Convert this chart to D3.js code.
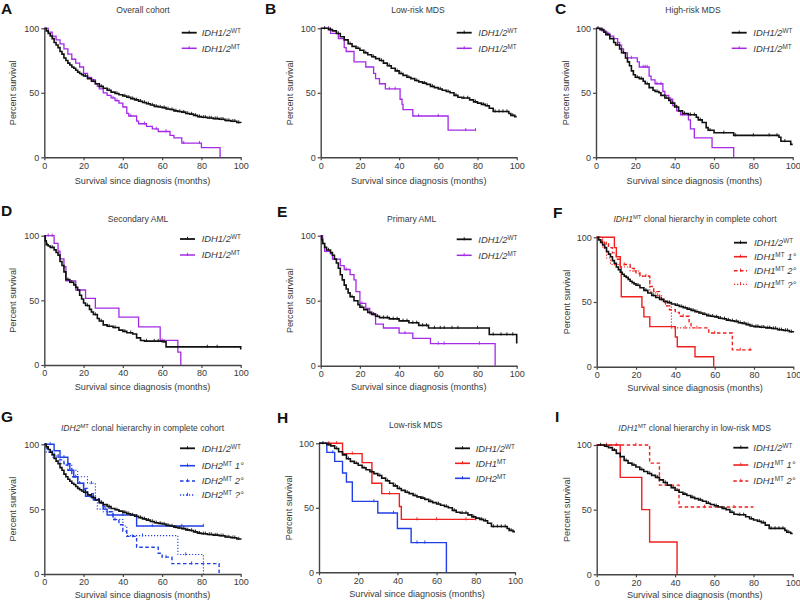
<!DOCTYPE html>
<html><head><meta charset="utf-8">
<script src="https://cdn.jsdelivr.net/npm/d3@7"></script>
<style>body{margin:0;background:#fff}svg{display:block}</style>
</head><body>
<svg id="c" width="800" height="602"></svg>
<script>
// ---------- DATA (Kaplan–Meier steps: [month, percent survival after that time]) ----------
const xTicks = [0, 20, 40, 60, 80, 100];
const yTicks = [0, 50, 100];

const wtAll = [[0,100],[1,98],[2,96],[3,94],[4,92],[5,89],[6,87],[7,85],[8,82],[9,80],[10,77],[11,75],[12,73],[13,71.5],[14,70],[15,69],[16,67.5],[17,66],[18,65],[19,64],[20,63],[22,61],[24,59],[26,57],[28,55],[30,53.5],[32,52],[34,50.5],[36,49.5],[38,48.5],[40,47.5],[42,46.5],[44,45.5],[46,44.5],[48,43.5],[50,42.5],[52,41.5],[54,40.5],[56,39.5],[58,39],[60,38.5],[62,37.5],[64,37],[66,36],[68,35.5],[70,35],[72,34],[74,33.5],[76,32.5],[78,31.5],[80,31],[83,30.5],[86,30],[89,29.5],[92,28.5],[95,28],[98,27],[100,26.5]];
const wtAllCens = [21,25,29,33,37,41,43,45,47,49,51,53,55,57,59,61,63,65,67,69,71,73,75,77,79,81,82,84,85,87,88,90,91,93,94,96,97,99];
const mtAll = [[0,100],[2,97],[4,94],[6,91],[8,88],[10,84],[12,80],[14,76],[16,73],[18,70],[20,65],[22,62],[24,60],[26,57],[27,55],[28,53],[30,50],[32,48],[34,46],[36,44],[38,42],[40,39],[42,34],[43,32],[47,28],[48,26],[52,24],[55,22],[58,20],[64,17],[66,15],[70,11],[80,7.5],[89.5,0]];
const mtAllCens = [35,37,44,51,57,62,71,79];

const wtLR = [[0,100],[4,99],[6,98],[8,96],[10,93.5],[12,91],[14,88],[16,86],[18,84.5],[20,83],[22,81],[24,79.5],[26,78],[28,76.5],[30,75],[32,73],[34,71],[36,69],[38,67],[40,65],[42,63.5],[44,62],[46,61],[48,59.5],[50,58.5],[52,57.5],[54,56.5],[56,55],[58,54],[60,53],[62,52],[64,51],[66,50],[68,48],[70,46.5],[72,46],[76,44.5],[78,43],[80,42],[82,41],[84,40],[86,38],[88,35.5],[96,34],[97,32.5],[99,31.5],[100,31.5]];
const wtLRCens = [2,5,9,15,19,23,27,31,35,39,41,45,49,53,57,61,65,69,73,75,79,83,85,89,91,93,95,98];
const mtLR = [[0,100],[5,96],[9,92],[12,85],[13,82],[17,74],[23,70],[27,65],[28,61],[30,57],[33,53],[40.5,45],[41.5,41],[42,37],[47,32],[65,21],[79,21]];
const mtLRCens = [4,35,38,50,60,74,79];

const wtHR = [[0,100],[2,99],[4,97],[5,95],[7,92],[9,89],[10,87],[12,84],[13,81],[15,77],[16,74],[17,71],[18,67],[19,64],[20,62],[22,61],[24,59],[25,57],[27,54],[29,52],[30,51],[32,50],[33,48],[35,46],[37,44],[38,42],[40,39],[42,36],[44,34],[47,33],[51,31],[52,29],[54,27],[56,23],[57,21],[60,19],[70,17],[93,15.5],[94,12.5],[99,10],[100,10]];
const wtHRCens = [1,3,6,11,14,21,23,26,31,36,39,41,45,48,50,53,58,65,71,80,88,92,96];
const mtHR = [[0,100],[3,98],[5,96],[7,94],[9,92],[11,89],[12,87],[13,84],[14,81],[16,77],[21,74],[22,70],[27,63],[28,60],[30,57],[34,51],[35,48],[37,45],[39,40],[41,36],[43,33],[47,29],[48,22],[50,15],[59,7.5],[70,0]];
const mtHRCens = [6,18,24,25,26,31,33,38,44];

const wtSA = [[0,100],[0.5,96],[1,93],[2,92],[3,91],[5,89],[6,87],[7,85],[8,80],[9,77],[10,72],[11,66],[13,64],[15,62],[16,60],[17,58],[18,54],[19,51],[20,48],[21,46],[23,43],[24,41],[25,39],[27,36],[28,34],[30,31],[32,30],[35,29],[38,27],[40,26],[42,25],[45,24],[47,21],[49,19],[51,18.5],[60,18],[62,14],[100,12]];
const wtSACens = [1.5,4,12,14,22,26,29,33,36,41,44,52,56,58,61,83,88];
const mtSA = [[0,100],[5,94],[7,88],[8,82],[10,76],[11,65],[16,58],[21,51.5],[26,44],[38,37],[48,29.5],[59,19],[68,10],[69.5,0]];
const mtSACens = [2,4,60];

const wtPA = [[0,100],[0.5,97],[1,94],[2,91],[3,89],[5,87],[6,85],[7,82],[8,79],[9,75],[10,70],[11,66],[12,62],[13,59],[14,56],[15,53],[17,50],[19,47],[20,45],[22,43],[24,41],[26,39.5],[28,38],[30,37],[35,36],[40,34.5],[45,33],[50,31],[55,29],[86,24],[100,17]];
const wtPACens = [4,16,21,27,29,32,34,37,39,42,44,47,49,52,54,58,61,63,67,70,80,88,92,95,98];
const mtPA = [[0,100],[1,94],[2,88],[5,86],[6,82],[10,77],[12,74],[15,70],[17,66],[18,57],[20,48],[23,44],[25,40],[28,32],[32,29],[40,25],[47,21],[56,17],[89,0]];
const mtPACens = [3,13,21,26,43,60,63,81];

const idh1Prim = [[0,100],[9,92],[10,85],[12,77],[12.5,54],[23,46],[24,38.5],[27,31],[40,23],[41,15.4],[50,7.7],[59.5,0]];
const idh1Sec = [[0,100],[2,97],[4,95],[6,92],[8,88],[10,83],[12,79],[17,76],[20,72],[22,70],[27,62],[29,58],[32,52],[34,50],[35,47],[37,44],[40,42],[42,39],[47,34],[48,30],[57,26],[69,13],[80,13]];
const idh1SecCens = [3,5,14,25,33,44,51,60,73,78];
const idh1Unk = [[0,100],[3,92],[5,84],[7,79],[12,77],[17,74],[22,70],[27,58],[30,55],[33,52],[35,47],[38,30],[48,30]];
const idh1UnkCens = [4,9,19,31,45];

const idh2Prim = [[0,100],[5,95],[8,90],[12,85],[13,80],[15,75],[17,70],[20,65],[21,60],[25,57],[28,55],[30,50],[32,45.5],[47,37],[81,37]];
const idh2PrimCens = [3,10,14,18,23,29,31,35,40,55,70,81];
const idh2Sec = [[0,100],[1,97],[2,94],[5,92],[7,88],[10,84],[12,80],[14,75],[17,70],[20,66],[22,62],[25,58],[28,55],[30,52],[33,48],[35,42],[38,38],[40,33],[42,29],[47,20.6],[58,16],[60,13],[65,8],[89,0]];
const idh2SecCens = [4,16,36,45,62,75];
const idh2Unk = [[0,100],[1,94],[4,90],[8,85],[14,80],[17,75],[22,70],[26,58],[27,50],[30,48],[35,42],[40,37],[42,29.6],[68,15],[81,0]];
const idh2UnkCens = [6,12,24,50,72];

const lrIdh1 = [[0,100],[12,92],[22,85],[27,69],[32,61],[41,51],[42,41],[80,41]];
const lrIdh1Cens = [5,9,17,36,50,60,75,80];
const lrIdh2 = [[0,100],[4,93],[8,86],[12,77],[14,70],[17,55],[30,46],[40,34],[47,23],[65,0]];
const lrIdh2Cens = [7,28,38,50,54];

const lrIdh1Prim = [[0,100],[12,75],[23,50],[27,25],[41,0]];
const lrIdh1Sec = [[0,100],[27,86],[32,69],[42,52],[80,52]];
const lrIdh1SecCens = [5,10,20,35,55,70];

// ---------- STYLE ----------
const FONT = "Arial, 'Liberation Sans', Helvetica, sans-serif";
const BLACK = "#111", PURPLE = "#a42ae6", RED = "#f0201e", BLUE = "#2040e6";
const TXT = "#3a3a3a";

const lblWT = [{t:"IDH1/2",i:1},{t:"WT",s:1}];
const lblMT = [{t:"IDH1/2",i:1},{t:"MT",s:1}];
const mk = (g, suf) => [{t:g,i:1},{t:"MT",s:1},{t:suf,i:1}];

const panels = [
 {L:"A", lx:1, ly:14, title:[{t:"Overall cohort"}], tx:143, ty:13, xo:26.5,
  px:[44.3,240.7], py:[157.3,28.3], yl:13.3, leg:{x0:181.7,x1:196.7,tx:201.7,ys:[32.7,48.3]},
  ser:[{d:wtAll,c:wtAllCens,col:BLACK,w:1.6,lbl:lblWT},{d:mtAll,c:mtAllCens,col:PURPLE,w:1.3,lbl:lblMT}]},
 {L:"B", lx:265, ly:14, title:[{t:"Low-risk  MDS"}], tx:418, ty:13, xo:26.5,
  px:[320.7,516.7], py:[157.3,28.3], yl:290, leg:{x0:456.7,x1:471.7,tx:478.3,ys:[32.7,48.3]},
  ser:[{d:wtLR,c:wtLRCens,col:BLACK,w:1.6,lbl:lblWT},{d:mtLR,c:mtLRCens,col:PURPLE,w:1.3,lbl:lblMT}]},
 {L:"C", lx:555, ly:14, title:[{t:"High-risk MDS"}], tx:693, ty:13, xo:26.5,
  px:[596,792.7], py:[157.3,28.3], yl:566, leg:{x0:731.7,x1:746.7,tx:753.3,ys:[32.7,48.3]},
  ser:[{d:wtHR,c:wtHRCens,col:BLACK,w:1.6,lbl:lblWT},{d:mtHR,c:mtHRCens,col:PURPLE,w:1.3,lbl:lblMT}]},
 {L:"D", lx:1, ly:216, title:[{t:"Secondary AML"}], tx:138, ty:221.5, xo:24.5,
  px:[44.3,240.7], py:[365,235.7], yl:13.3, leg:{x0:180,x1:195,tx:201.7,ys:[239,255]},
  ser:[{d:wtSA,c:wtSACens,col:BLACK,w:1.6,lbl:lblWT},{d:mtSA,c:mtSACens,col:PURPLE,w:1.3,lbl:lblMT}]},
 {L:"E", lx:277, ly:217, title:[{t:"Primary AML"}], tx:411.7, ty:221.5, xo:24.5,
  px:[320.7,516.7], py:[365.7,235.7], yl:290, leg:{x0:456.7,x1:471.7,tx:478.3,ys:[239.3,255.3]},
  ser:[{d:wtPA,c:wtPACens,col:BLACK,w:1.6,lbl:lblWT},{d:mtPA,c:mtPACens,col:PURPLE,w:1.3,lbl:lblMT}]},
 {L:"F", lx:553, ly:218, title:[{t:"IDH1",i:1},{t:"MT",s:1},{t:" clonal hierarchy in complete cohort"}], tx:695, ty:222, xo:24.5,
  px:[596.7,793.3], py:[366.7,237.3], yl:567.3, leg:{x0:734,x1:747,tx:754,ys:[242.7,256.7,270.7,284.3]},
  ser:[{d:wtAll,c:wtAllCens,col:BLACK,w:1.6,lbl:lblWT},
       {d:idh1Prim,c:[],col:RED,w:1.4,lbl:mk("IDH1"," 1°")},
       {d:idh1Sec,c:idh1SecCens,col:RED,w:1.4,dash:"3.5,2.5",lbl:mk("IDH1"," 2°")},
       {d:idh1Unk,c:idh1UnkCens,col:RED,w:1.1,dash:"1.2,1.8",lbl:mk("IDH1"," ?°")}]},
 {L:"G", lx:1, ly:422, title:[{t:"IDH2",i:1},{t:"MT",s:1},{t:" clonal hierarchy in complete cohort"}], tx:142.5, ty:431, xo:23.5,
  px:[44.3,240.7], py:[574,444.3], yl:13.3, leg:{x0:180,x1:195,tx:201.7,ys:[448.3,465.7,481,495]},
  ser:[{d:wtAll,c:wtAllCens,col:BLACK,w:1.6,lbl:lblWT},
       {d:idh2Prim,c:idh2PrimCens,col:BLUE,w:1.4,lbl:mk("IDH2"," 1°")},
       {d:idh2Sec,c:idh2SecCens,col:BLUE,w:1.4,dash:"3.5,2.5",lbl:mk("IDH2"," 2°")},
       {d:idh2Unk,c:idh2UnkCens,col:BLUE,w:1.1,dash:"1.2,1.8",lbl:mk("IDH2"," ?°")}]},
 {L:"H", lx:277, ly:423, title:[{t:"Low-risk  MDS"}], tx:415.7, ty:428, xo:24.5,
  px:[319,515], py:[572.3,443.3], yl:289, leg:{x0:455,x1:470,tx:475.7,ys:[448.3,463.3,478.3]},
  ser:[{d:wtLR,c:wtLRCens,col:BLACK,w:1.6,lbl:lblWT},
       {d:lrIdh1,c:lrIdh1Cens,col:RED,w:1.4,lbl:[{t:"IDH1",i:1},{t:"MT",s:1}]},
       {d:lrIdh2,c:lrIdh2Cens,col:BLUE,w:1.4,lbl:[{t:"IDH2",i:1},{t:"MT",s:1}]}]},
 {L:"I", lx:555, ly:422, title:[{t:"IDH1",i:1},{t:"MT",s:1},{t:" clonal hierarchy in low-risk MDS"}], tx:694.7, ty:431, xo:23.5,
  px:[596.7,792.7], py:[574.3,445], yl:566.7, leg:{x0:733.3,x1:748.3,tx:753.3,ys:[447.7,465,481]},
  ser:[{d:wtLR,c:wtLRCens,col:BLACK,w:1.6,lbl:lblWT},
       {d:lrIdh1Prim,c:[],col:RED,w:1.4,lbl:mk("IDH1"," 1°")},
       {d:lrIdh1Sec,c:lrIdh1SecCens,col:RED,w:1.4,dash:"3.5,2.5",lbl:mk("IDH1"," 2°")}]}
];

const svg = d3.select("#c").style("font-family", FONT);

function addRich(sel, segs, size) {
  segs.forEach(s => {
    const ts = sel.append("tspan").text(s.t);
    if (s.i) ts.attr("font-style", "italic");
    if (s.s) ts.attr("font-size", size * 0.68).attr("baseline-shift", "super");
  });
}
function survAt(d, t) {
  let v = d[0][1];
  for (const p of d) { if (p[0] <= t) v = p[1]; else break; }
  return v;
}

panels.forEach(p => {
  const g = svg.append("g");
  const x = d3.scaleLinear().domain([0,100]).range(p.px);
  const y = d3.scaleLinear().domain([0,100]).range(p.py);

  g.append("text").attr("x", p.lx).attr("y", p.ly).attr("font-size", 15.5).attr("font-weight", "bold")
    .attr("fill", "#111").text(p.L);
  const tt = g.append("text").attr("x", p.tx).attr("y", p.ty).attr("text-anchor", "middle")
    .attr("font-size", 8.6).attr("fill", TXT);
  addRich(tt, p.title, 8.6);

  const ax = g.append("g").attr("transform", `translate(0,${p.py[0]})`)
    .call(d3.axisBottom(x).tickValues(xTicks).tickSize(3).tickSizeOuter(0).tickPadding(2));
  const ay = g.append("g").attr("transform", `translate(${p.px[0]},0)`)
    .call(d3.axisLeft(y).tickValues(yTicks).tickSize(3).tickSizeOuter(0).tickPadding(2));
  [ax, ay].forEach(a => {
    a.select(".domain").attr("stroke", "#444").attr("stroke-width", 1.4);
    a.selectAll(".tick line").attr("stroke", "#444").attr("stroke-width", 1.2);
    a.selectAll(".tick text").attr("font-size", 9).attr("fill", TXT).attr("font-family", FONT);
  });

  g.append("text").attr("x", (p.px[0]+p.px[1])/2).attr("y", p.py[0] + p.xo).attr("text-anchor", "middle")
    .attr("font-size", 9.1).attr("fill", TXT).text("Survival since diagnosis (months)");
  g.append("text").attr("transform", `translate(${p.yl + 3},${(p.py[0]+p.py[1])/2}) rotate(-90)`)
    .attr("text-anchor", "middle").attr("font-size", 9.1).attr("fill", TXT).text("Percent survival");

  const line = d3.line().x(d => x(d[0])).y(d => y(d[1])).curve(d3.curveStepAfter);
  const order = p.ser.slice(1).concat([p.ser[0]]);
  order.forEach(s => {
    g.append("path").attr("d", line(s.d)).attr("fill", "none").attr("stroke", s.col)
      .attr("stroke-width", s.w).attr("stroke-dasharray", s.dash || null);
    g.selectAll(null).data(s.c).enter().append("line")
      .attr("x1", t => x(t)).attr("x2", t => x(t))
      .attr("y1", t => y(survAt(s.d, t)) - 2.2).attr("y2", t => y(survAt(s.d, t)) + 1)
      .attr("stroke", s.col).attr("stroke-width", 0.9);
  });

  p.ser.forEach((s, i) => {
    const ly = p.leg.ys[i];
    g.append("line").attr("x1", p.leg.x0).attr("x2", p.leg.x1).attr("y1", ly).attr("y2", ly)
      .attr("stroke", s.col).attr("stroke-width", s.w + 0.2).attr("stroke-dasharray", s.dash || null);
    const mx = (p.leg.x0 + p.leg.x1) / 2;
    g.append("line").attr("x1", mx).attr("x2", mx).attr("y1", ly - 2.2).attr("y2", ly + 1)
      .attr("stroke", s.col).attr("stroke-width", 0.9);
    const t = g.append("text").attr("x", p.leg.tx).attr("y", ly + 3.2).attr("font-size", 9.4).attr("fill", TXT);
    addRich(t, s.lbl, 9.4);
  });
});
</script>
</body></html>
